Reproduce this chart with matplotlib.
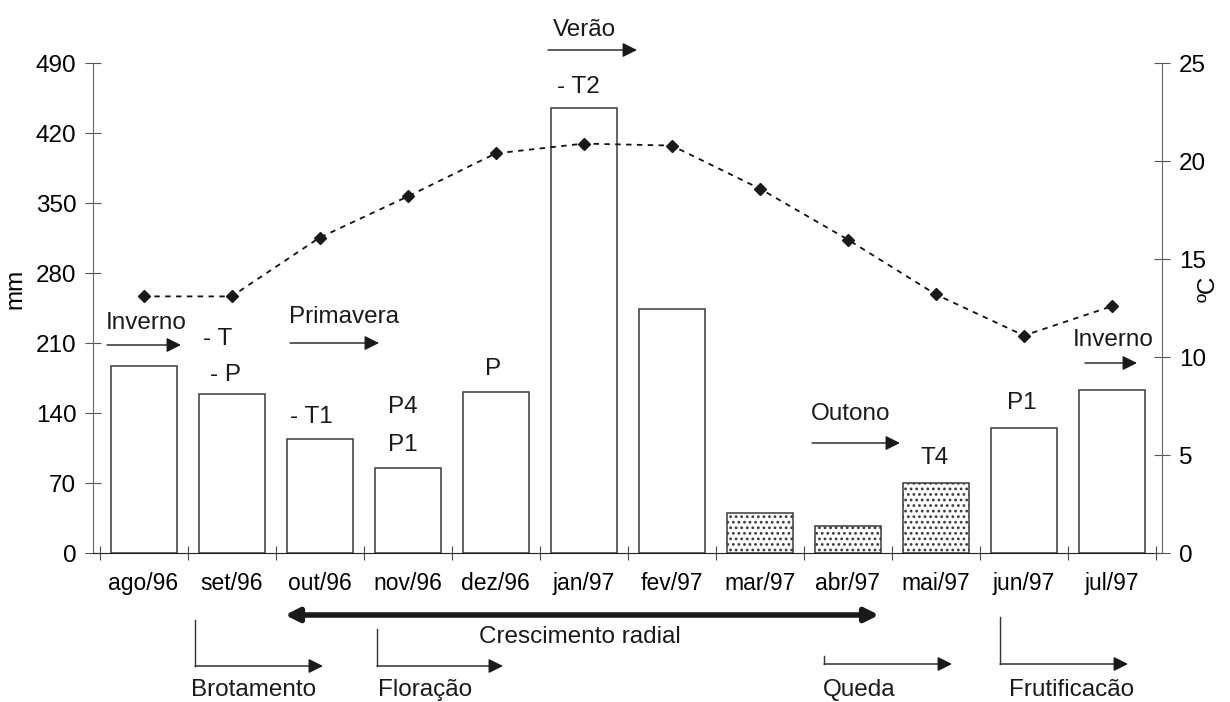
import matplotlib
matplotlib.use("Agg")
import matplotlib.pyplot as plt
import matplotlib.transforms as mtransforms
import numpy as np

plt.rcParams['font.family'] = ['Liberation Sans', 'DejaVu Sans']
plt.rcParams['hatch.linewidth'] = 1.2

months = ["ago/96", "set/96", "out/96", "nov/96", "dez/96", "jan/97",
          "fev/97", "mar/97", "abr/97", "mai/97", "jun/97", "jul/97"]
precip_mm = [187, 159, 114, 85, 161, 445, 244, 40, 27, 70, 125, 163]
temp_c = [13.1, 13.1, 16.1, 18.2, 20.4, 20.9, 20.8, 18.6, 16.0, 13.2, 11.1, 12.6]
dotted_months = ["mar/97", "abr/97", "mai/97"]
mm_ticks = [0, 70, 140, 210, 280, 350, 420, 490]
c_ticks = [0, 5, 10, 15, 20, 25]

W, H = 1230, 702
fig = plt.figure(figsize=(W / 100, H / 100), dpi=100)
px = mtransforms.Affine2D().scale(1 / W, -1 / H).translate(0, 1) + fig.transFigure

L, R, T, B = 93, 1162, 63.3, 553
ax = fig.add_axes([L / W, 1 - B / H, (R - L) / W, (B - T) / H])
ax2 = ax.twinx()

x = np.arange(len(months))
FS = 17.5
edge = '#3a3a3a'
for i, (m, v) in enumerate(zip(months, precip_mm)):
    dotted = m in dotted_months
    ax.bar(i, v, width=0.75, facecolor='white', edgecolor=edge, linewidth=1.1,
           hatch='...' if dotted else None, zorder=2)

ax.set_xlim(-0.574, 11.568)
ax.set_ylim(0, 490)
ax.set_yticks(mm_ticks)
ax.set_xticks(np.arange(-0.5, 12, 1.0))
ax.set_xticklabels([])
ax.set_xticks(x, minor=True)
ax.set_xticklabels(months, minor=True, fontsize=16.5)
ax.tick_params(axis='x', which='minor', length=0, pad=14)
ax.tick_params(axis='x', which='major', direction='inout', length=10, color='#444444')
ax.tick_params(axis='y', direction='inout', length=12, color='#555555', labelsize=FS, pad=6)
for s in ['top']:
    ax.spines[s].set_visible(False)
    ax2.spines[s].set_visible(False)
ax.spines['left'].set_color('#666666')
ax.spines['bottom'].set_color('#222222')
ax.spines['right'].set_visible(False)
ax2.spines['left'].set_visible(False)
ax2.spines['right'].set_color('#666666')
ax2.spines['bottom'].set_visible(False)

ax2.plot(x, temp_c, color='#111111', linestyle=(0, (3, 3)), linewidth=1.3,
         marker='D', markersize=6.5, markerfacecolor='#1a1a1a', markeredgecolor='#1a1a1a', zorder=3)
ax2.set_ylim(0, 25)
ax2.set_yticks(c_ticks)
ax2.tick_params(axis='y', direction='inout', length=12, color='#555555', labelsize=FS, pad=6)

ax.set_ylabel('mm', fontsize=FS)
ax.yaxis.set_label_coords(-0.062, 0.54)
ax2.set_ylabel('ºC', fontsize=FS, rotation=90)
ax2.yaxis.set_label_coords(1.033, 0.54)

tkw = dict(transform=px, fontsize=FS, color='#1a1a1a', va='center')

def arrow(x0, y0, x1, y1, lw=1.0, style='-|>', ms=22, color='#1a1a1a'):
    fig.add_artist(matplotlib.patches.FancyArrowPatch(
        (x0, y0), (x1, y1), transform=px, arrowstyle=style, mutation_scale=ms,
        lw=lw, color=color, shrinkA=0, shrinkB=0))

# season labels
fig.text(584, 30, 'Verão', ha='center', **tkw)
arrow(548, 50, 637, 50)
fig.text(146, 323, 'Inverno', ha='center', **tkw)
arrow(107, 345, 181, 345)
fig.text(344, 317, 'Primavera', ha='center', **tkw)
arrow(290, 343, 379, 343)
fig.text(851, 414, 'Outono', ha='center', **tkw)
arrow(812, 443, 900, 443)
fig.text(1113, 340, 'Inverno', ha='center', **tkw)
arrow(1085, 363, 1137, 363)

# phenology markers above bars
fig.text(578, 87, '- T2', ha='center', **tkw)
fig.text(218, 339, '- T', ha='center', **tkw)
fig.text(225, 375, '- P', ha='center', **tkw)
fig.text(311, 417, '- T1', ha='center', **tkw)
fig.text(403, 407, 'P4', ha='center', **tkw)
fig.text(403, 445, 'P1', ha='center', **tkw)
fig.text(493, 369, 'P', ha='center', **tkw)
fig.text(935, 458, 'T4', ha='center', **tkw)
fig.text(1022, 403, 'P1', ha='center', **tkw)

# Crescimento radial
arrow(285, 615, 879, 615, lw=4, style='<|-|>', ms=20)
fig.text(580, 637, 'Crescimento radial', ha='center', **tkw)

# bracket arrows
def bracket(xv, ytop, ybot, xtip, label, xlabel):
    fig.add_artist(matplotlib.lines.Line2D([xv, xv], [ytop, ybot], transform=px,
                                           color='#333333', lw=1.0))
    arrow(xv, ybot, xtip, ybot)
    fig.text(xlabel, 690, label, ha='left', **tkw)

bracket(195, 620, 666, 323, 'Brotamento', 191)
bracket(377, 629, 666, 503, 'Floração', 378)
bracket(824, 656, 664, 952, 'Queda', 823)
bracket(1000, 617, 664, 1128, 'Frutificacão', 1009)

fig.savefig('out.png', dpi=100)
